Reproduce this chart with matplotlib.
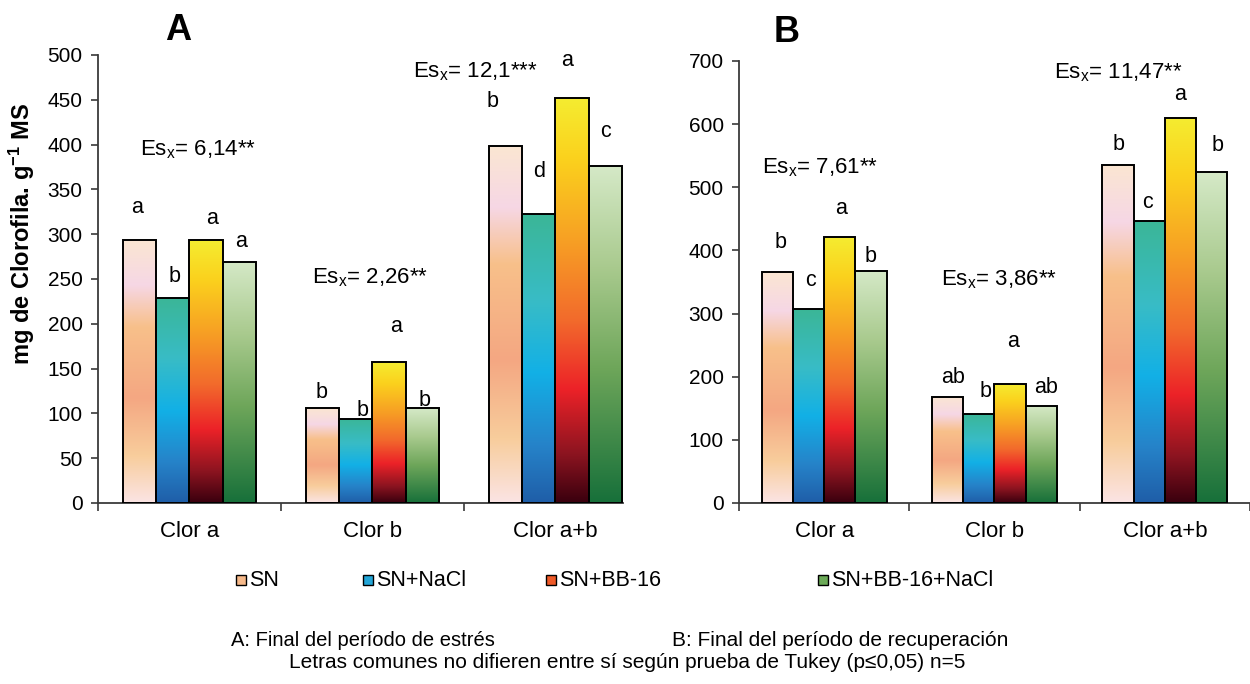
import numpy as np
import matplotlib
matplotlib.use('Agg')
import matplotlib.pyplot as plt
from matplotlib.colors import LinearSegmentedColormap
from matplotlib.patches import Rectangle

plt.rcParams['font.family'] = ['Liberation Sans', 'DejaVu Sans']
plt.rcParams['mathtext.default'] = 'regular'

# ---------------- data ----------------
categories = ['Clor a', 'Clor b', 'Clor a+b']
treatments = ['SN', 'SN+NaCl', 'SN+BB-16', 'SN+BB-16+NaCl']

# Panel A: end of stress period
A_SN = [293, 106, 398]
A_NaCl = [229, 94, 322]
A_BB16 = [293, 157, 452]
A_BB16_NaCl = [269, 106, 376]
A_letters = [['a', 'b', 'a', 'a'], ['b', 'b', 'a', 'b'], ['b', 'd', 'a', 'c']]
A_es = ['6,14**', '2,26**', '12,1***']

# Panel B: end of recovery period
B_SN = [366, 168, 536]
B_NaCl = [307, 141, 447]
B_BB16 = [421, 189, 610]
B_BB16_NaCl = [368, 154, 524]
B_letters = [['b', 'c', 'a', 'b'], ['ab', 'b', 'a', 'ab'], ['b', 'c', 'a', 'b']]
B_es = ['7,61**', '3,86**', '11,47**']

# ---------------- styling ----------------
# gradient stops listed from top (0) to bottom (1)
grad_stops = {
    'SN': [(0, '#fbe6d2'), (0.17, '#f6d7e5'), (0.33, '#f8c08a'), (0.6, '#f4a782'),
           (0.82, '#f8cd9c'), (1, '#fbe4e4')],
    'SN+NaCl': [(0, '#3bb697'), (0.3, '#38bcc6'), (0.55, '#12b0e6'), (0.8, '#2683c9'),
                (1, '#1f5ea8')],
    'SN+BB-16': [(0, '#f5ec30'), (0.15, '#fbd11d'), (0.35, '#f7a024'), (0.55, '#f26a2c'),
                 (0.72, '#ec2228'), (0.88, '#8c1420'), (1, '#3a000e')],
    'SN+BB-16+NaCl': [(0, '#d5e9c7'), (0.3, '#a9ca8e'), (0.6, '#6ea65a'), (1, '#17703a')],
}
legend_colors = {'SN': '#f6b98a', 'SN+NaCl': '#23a6d8', 'SN+BB-16': '#ef5a28',
                 'SN+BB-16+NaCl': '#6caa58'}
cmaps = {}
for k, stops in grad_stops.items():
    st = sorted([(1 - t, c) for t, c in stops])
    cmaps[k] = LinearSegmentedColormap.from_list(k, st)
grad = np.linspace(0, 1, 256).reshape(-1, 1)

# letter offsets in pixels (dx, dy) relative to bar top centre
A_off = [[(-2, 33), (2, 21), (6, 22), (1, 20)],
         [(-1, 16), (7, 8), (7, 36), (2, 8)],
         [(-13, 45), (0, 43), (-5, 38), (0, 35)]]
B_off = [[(3, 29), (2, 29), (1, 29), (0, 14)],
         [(5, 19), (7, 22), (3, 42), (5, 18)],
         [(1, 20), (-2, 18), (0, 23), (6, 27)]]
A_es_pos = [(0.046, 394), (0.986, 251), (1.56, 481)]
B_es_pos = [(-0.025, 531), (1.025, 353), (1.729, 681)]

W, H = 1250, 684
fig = plt.figure(figsize=(W / 100, H / 100), dpi=100)

axA = fig.add_axes([98 / W, 1 - 503 / H, (623 - 98) / W, (503 - 55) / H])
axB = fig.add_axes([739 / W, 1 - 503 / H, (1250 - 739) / W, (503 - 61) / H])
spine_c = '#3a3a3a'


def draw_panel(ax, series, letters, offs, es, es_pos, half, xmax, ymax, ystep):
    n = len(series)
    w = 2 * half / n
    x = np.arange(len(categories))
    for i, (vals, name) in enumerate(zip(series, treatments)):
        xs = x - half + w * (i + 0.5)
        bars = ax.bar(xs, vals, width=w, facecolor='none', edgecolor='black',
                      linewidth=1.4, zorder=3)
        for j, b in enumerate(bars):
            x0 = b.get_x()
            h = b.get_height()
            im = ax.imshow(grad, extent=[x0, x0 + b.get_width(), 0, h], aspect='auto',
                           cmap=cmaps[name], origin='lower', zorder=2,
                           interpolation='bilinear')
            im.set_clip_path(b)
            dx, dy = offs[j][i]
            ax.annotate(letters[j][i], (xs[j], vals[j]), xytext=(dx, dy),
                        textcoords='offset pixels', ha='center', va='center',
                        fontsize=15.5, zorder=5)
    for (ex, ey), s in zip(es_pos, es):
        ax.text(ex, ey, 'Es$_{x}$= ' + s, ha='center', va='center', fontsize=16)
    ax.set_yticks(np.arange(0, ymax + 1, ystep))
    ax.set_xticks([-0.5, 0.5, 1.5, 2.5])
    ax.set_xticklabels([])
    ax.set_xticks(x, minor=True)
    ax.set_xticklabels(categories, minor=True)
    ax.set_xlim(-0.5, xmax)
    ax.set_ylim(0, ymax)
    ax.tick_params(axis='x', which='minor', length=0, pad=13, labelsize=16)
    ax.tick_params(axis='x', which='major', length=6, width=1.2, color=spine_c)
    ax.tick_params(axis='y', length=5, width=1.2, color=spine_c, labelsize=15, pad=6)
    for s in ['top', 'right']:
        ax.spines[s].set_visible(False)
    for s in ['left', 'bottom']:
        ax.spines[s].set_color(spine_c)
        ax.spines[s].set_linewidth(1.3)


draw_panel(axA, [A_SN, A_NaCl, A_BB16, A_BB16_NaCl], A_letters, A_off, A_es, A_es_pos,
           0.365, 2.0 + 0.369, 500, 50)
draw_panel(axB, [B_SN, B_NaCl, B_BB16, B_BB16_NaCl], B_letters, B_off, B_es, B_es_pos,
           0.367, 2.5, 700, 100)

fig.text(178 / W, 1 - 31 / H, 'A', fontsize=26, fontweight='bold', ha='center', va='center')
fig.text(787 / W, 1 - 32 / H, 'B', fontsize=26, fontweight='bold', ha='center', va='center')
fig.text(22 / W, 1 - 234 / H, 'mg de Clorofila. g$^{-1}$ MS', rotation=90, fontsize=17,
         fontweight='bold', ha='center', va='center')

# legend
leg_x = [236, 363, 546, 818]
leg_y = 580
for lx, name in zip(leg_x, treatments):
    fig.add_artist(Rectangle((lx / W, 1 - (leg_y + 5) / H), 10 / W, 10 / H,
                             transform=fig.transFigure, facecolor=legend_colors[name],
                             edgecolor='black', linewidth=1.0))
    fig.text((lx + 13) / W, 1 - leg_y / H, name, fontsize=15.5, ha='left', va='center')

fig.text(231 / W, 1 - 640 / H, 'A: Final del período de estrés', fontsize=14.5,
         ha='left', va='center')
fig.text(672 / W, 1 - 640 / H, 'B: Final del período de recuperación', fontsize=15,
         ha='left', va='center')
fig.text(627 / W, 1 - 663 / H,
         'Letras comunes no difieren entre sí según prueba de Tukey (p≤0,05) n=5',
         fontsize=15, ha='center', va='center')

fig.savefig('out.png', dpi=100)
